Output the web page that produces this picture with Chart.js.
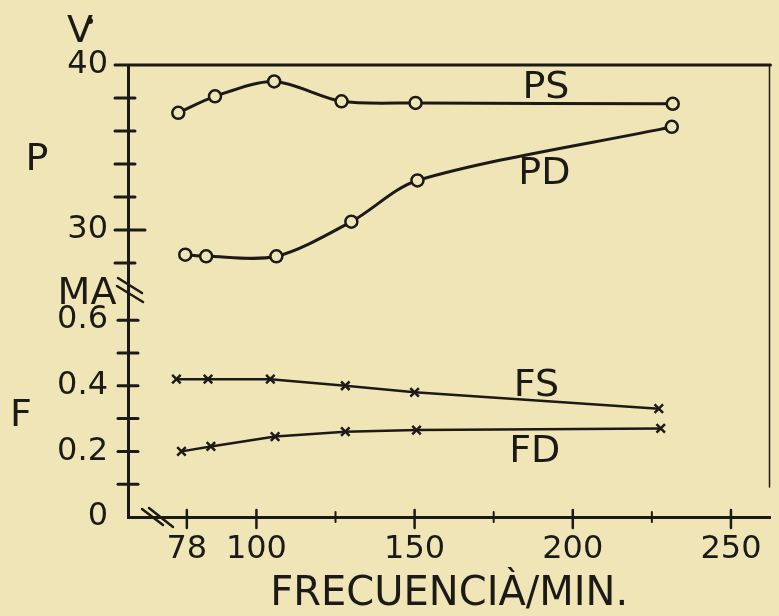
<!DOCTYPE html>
<html>
<head>
<meta charset="utf-8">
<script src="https://cdn.jsdelivr.net/npm/chart.js@4.4.1/dist/chart.umd.min.js"></script>
<style>
html, body { margin: 0; padding: 0; background: #f0e5b6; }
#wrap { width: 779px; height: 616px; position: relative; }
</style>
</head>
<body>
<div id="wrap"><canvas id="chart"></canvas></div>
<script>
// frecuencia por minuto (cada curva un poco distinta)
const psFreq = [75.3, 86.9, 105.6, 126.9, 150.3, 231.6];
const pdFreq = [77.5, 84.1, 106.3, 130.0, 150.9, 231.3];
const fsFreq = [74.7, 84.7, 104.4, 128.1, 150.0, 227.2];
const fdFreq = [76.3, 85.6, 105.9, 128.1, 150.6, 227.8];

// P en V, F en MA
const psVals = [37.1, 38.1, 39.0, 37.8, 37.7, 37.65];
const pdVals = [28.5, 28.4, 28.4, 30.5, 33.0, 36.25];
const fsVals = [0.42, 0.42, 0.42, 0.40, 0.38, 0.33];
const fdVals = [0.20, 0.215, 0.245, 0.26, 0.265, 0.27];

const xTicks = [78, 100, 150, 200, 250];
const xMinorTicks = [125, 175, 225];
const pTicks = [28, 30, 32, 34, 36, 38, 40];
const pLabels = [30, 40];
const fTicks = [0, 0.1, 0.2, 0.3, 0.4, 0.5, 0.6];
const fLabels = { 0: '0', 0.2: '0.2', 0.4: '0.4', 0.6: '0.6' };

const INK = '#1c1a16';
const BG = '#f0e5b6';
const FONT = "'DejaVu Sans', sans-serif";

const pts = (xs, ys) => xs.map((x, i) => ({ x: x, y: ys[i] }));

const sketch = {
    id: 'sketch',
    afterDraw(chart) {
        const ctx = chart.ctx;
        const a = chart.chartArea;
        const sx = chart.scales.x, sp = chart.scales.yP, sf = chart.scales.yF;
        ctx.save();
        ctx.strokeStyle = INK;
        ctx.fillStyle = INK;
        ctx.lineCap = 'round';

        // marco superior y borde derecho
        ctx.lineWidth = 3;
        ctx.beginPath();
        ctx.moveTo(a.left - 13, a.top);
        ctx.lineTo(a.right, a.top);
        ctx.stroke();
        ctx.lineWidth = 1.5;
        ctx.beginPath();
        ctx.moveTo(a.right - 1, a.top);
        ctx.lineTo(a.right - 1, a.bottom - 30);
        ctx.stroke();

        // marcas del eje y
        ctx.lineWidth = 3;
        pTicks.forEach(v => {
            if (v === 40) return;
            const y = sp.getPixelForValue(v);
            ctx.beginPath();
            ctx.moveTo(a.left - 13, y);
            ctx.lineTo(a.left + (v === 30 ? 17 : 7), y);
            ctx.stroke();
        });
        fTicks.forEach(v => {
            if (v === 0) return;
            const y = sf.getPixelForValue(v);
            ctx.beginPath();
            ctx.moveTo(a.left - 10, y);
            ctx.lineTo(a.left + 10, y);
            ctx.stroke();
        });

        // marcas del eje x
        ctx.lineWidth = 2.5;
        xTicks.forEach(v => {
            const x = sx.getPixelForValue(v);
            ctx.beginPath();
            ctx.moveTo(x, a.bottom - 7);
            ctx.lineTo(x, a.bottom + 11);
            ctx.stroke();
        });
        ctx.lineWidth = 2;
        xMinorTicks.forEach(v => {
            const x = sx.getPixelForValue(v);
            ctx.beginPath();
            ctx.moveTo(x, a.bottom - 5);
            ctx.lineTo(x, a.bottom + 5);
            ctx.stroke();
        });

        // cortes de eje
        ctx.lineWidth = 2.5;
        const cut = (x1, y1, x2, y2) => {
            ctx.beginPath(); ctx.moveTo(x1, y1); ctx.lineTo(x2, y2); ctx.stroke();
        };
        cut(a.left - 10, 278, a.left + 14, 293);
        cut(a.left - 11, 286, a.left + 15, 302);
        cut(a.left + 14, a.bottom - 8, a.left + 35, a.bottom + 8);
        cut(a.left + 21, a.bottom - 9, a.left + 45, a.bottom + 10);

        // rotulos
        ctx.font = '38px ' + FONT;
        ctx.textAlign = 'center';
        ctx.textBaseline = 'middle';
        ctx.fillText('P', 37, 160);
        ctx.fillText('F', 21, 416);
        ctx.fillText('MA', 87, 294);
        ctx.fillText('V', 80, 32);
        ctx.beginPath();
        ctx.arc(90, 21, 3, 0, Math.PI * 2);
        ctx.fill();

        ctx.fillText('PS', sx.getPixelForValue(191.5), sp.getPixelForValue(38.6));
        ctx.fillText('PD', sx.getPixelForValue(191), sp.getPixelForValue(33.4));
        ctx.fillText('FS', sx.getPixelForValue(188.5), sf.getPixelForValue(0.40));
        ctx.fillText('FD', sx.getPixelForValue(188), sf.getPixelForValue(0.198));
        ctx.restore();
    }
};

new Chart(document.getElementById('chart').getContext('2d'), {
    type: 'line',
    data: {
        datasets: [
            {
                label: 'PS', data: pts(psFreq, psVals), yAxisID: 'yP',
                borderColor: INK, borderWidth: 3, tension: 0.3,
                pointStyle: 'circle', pointRadius: 6, pointBorderWidth: 2.5,
                pointBorderColor: INK, pointBackgroundColor: BG
            },
            {
                label: 'PD', data: pts(pdFreq, pdVals), yAxisID: 'yP',
                borderColor: INK, borderWidth: 3, tension: 0.3,
                pointStyle: 'circle', pointRadius: 6, pointBorderWidth: 2.5,
                pointBorderColor: INK, pointBackgroundColor: BG
            },
            {
                label: 'FS', data: pts(fsFreq, fsVals), yAxisID: 'yF',
                borderColor: INK, borderWidth: 2.5, tension: 0,
                pointStyle: 'crossRot', pointRadius: 6, pointBorderWidth: 2.5,
                pointBorderColor: INK
            },
            {
                label: 'FD', data: pts(fdFreq, fdVals), yAxisID: 'yF',
                borderColor: INK, borderWidth: 2.5, tension: 0,
                pointStyle: 'crossRot', pointRadius: 6, pointBorderWidth: 2.5,
                pointBorderColor: INK
            }
        ]
    },
    options: {
        responsive: true,
        maintainAspectRatio: false,
        animation: false,
        layout: { padding: { top: 65, right: 1, left: 0, bottom: 0 } },
        plugins: { legend: { display: false }, tooltip: { enabled: false } },
        scales: {
            x: {
                type: 'linear',
                min: 59.4,
                max: 262.5,
                afterFit: s => { s.height = 99; },
                afterBuildTicks: s => { s.ticks = xTicks.map(v => ({ value: v })); },
                grid: { display: false, drawTicks: false },
                border: { display: true, color: INK, width: 3 },
                ticks: { color: INK, padding: 13, autoSkip: false, font: { family: FONT, size: 32 }, maxRotation: 0 },
                title: {
                    display: true, text: 'FRECUENCIÀ/MIN.', color: INK,
                    font: { family: FONT, size: 40, lineHeight: 1 },
                    padding: { top: 0, bottom: 1 }
                }
            },
            yF: {
                type: 'linear',
                position: 'left',
                stack: 'left',
                stackWeight: 231,
                min: 0,
                max: 0.704,
                afterFit: s => { s.width = 128; },
                afterBuildTicks: s => { s.ticks = fTicks.map(v => ({ value: v })); },
                grid: { display: false, drawTicks: false },
                border: { display: true, color: INK, width: 3 },
                ticks: {
                    color: INK, padding: 20, autoSkip: false, font: { family: FONT, size: 32 },
                    callback: v => fLabels[Math.round(v * 10) / 10] || ''
                }
            },
            yP: {
                type: 'linear',
                position: 'left',
                stack: 'left',
                stackWeight: 221,
                min: 26.6,
                max: 40,
                afterFit: s => { s.width = 128; },
                afterBuildTicks: s => { s.ticks = pTicks.map(v => ({ value: v })); },
                grid: { display: false, drawTicks: false },
                border: { display: true, color: INK, width: 3 },
                ticks: {
                    color: INK, padding: 20, autoSkip: false, font: { family: FONT, size: 32 },
                    callback: v => pLabels.includes(v) ? String(v) : ''
                }
            }
        }
    },
    plugins: [sketch]
});
</script>
</body>
</html>
